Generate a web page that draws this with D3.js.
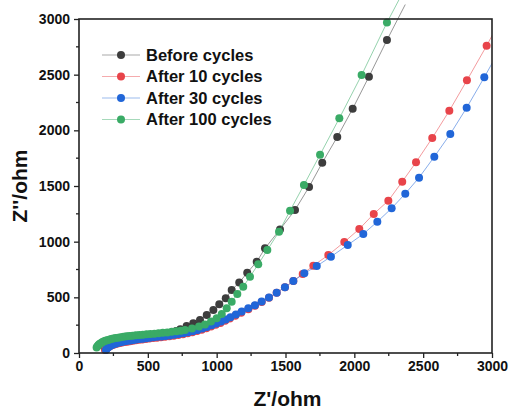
<!DOCTYPE html>
<html>
<head>
<meta charset="utf-8">
<script src="https://cdnjs.cloudflare.com/ajax/libs/d3/7.8.5/d3.min.js"></script>
<style>
body { margin: 0; background: #fff; }
text { font-family: Arial, "Liberation Sans", sans-serif; font-weight: bold; fill: #111; }
</style>
</head>
<body>
<div id="chart"></div>
<script>
// series names / colours
var seriesNames = ["Before cycles", "After 10 cycles", "After 30 cycles", "After 100 cycles"];
var seriesColors = ["#3d3d3d", "#e8444a", "#2166d8", "#3aab66"];

// [Z', Z''] in ohm
var beforeCycles = [[189,33],[194,44],[200,54],[207,63],[215,71],[224,78],[234,85],[245,91],[257,97],[270,103],[284,108],[299,113],[315,118],[332,123],[350,127],[369,131],[389,135],[410,139],[432,143],[455,147],[479,151],[504,155],[530,159],[557,163],[585,168],[614,173],[644,179],[675,187],[706,198],[736,214],[782,243],[830,267],[879,296],[928,341],[976,386],[1019,437],[1066,491],[1109,566],[1164,633],[1222,721],[1291,820],[1351,940],[1460,1110],[1569,1284],[1671,1491],[1767,1709],[1876,1940],[1988,2194],[2106,2482],[2237,2811],[2370,3130]];
var after10 = [[190,26],[197,37],[205,47],[215,55],[226,62],[238,69],[251,75],[265,80],[280,85],[296,90],[313,94],[331,98],[350,102],[370,106],[391,110],[413,114],[436,118],[460,122],[485,126],[511,130],[538,134],[566,138],[595,142],[625,146],[656,151],[688,156],[721,162],[755,169],[789,177],[823,186],[857,197],[891,209],[925,222],[959,237],[993,253],[1027,270],[1061,289],[1095,309],[1135,334],[1178,362],[1230,392],[1278,424],[1327,459],[1380,497],[1436,542],[1496,590],[1557,647],[1625,710],[1702,784],[1811,880],[1927,997],[2036,1114],[2141,1249],[2247,1368],[2348,1539],[2448,1713],[2566,1931],[2690,2176],[2818,2449],[2961,2760],[3100,3080]];
var after30 = [[196,28],[202,40],[210,50],[220,59],[231,67],[243,74],[256,80],[270,86],[285,91],[301,96],[318,101],[336,105],[355,109],[375,113],[396,117],[418,121],[441,125],[465,129],[490,133],[516,137],[543,141],[571,145],[600,149],[630,153],[661,158],[693,164],[726,170],[760,177],[794,186],[828,196],[862,207],[896,220],[930,234],[964,249],[998,265],[1032,283],[1066,302],[1100,322],[1140,346],[1182,372],[1230,401],[1278,430],[1327,462],[1380,499],[1436,542],[1496,590],[1557,647],[1637,716],[1727,781],[1830,865],[1952,970],[2065,1069],[2167,1179],[2271,1300],[2370,1431],[2470,1575],[2581,1763],[2697,1967],[2816,2203],[2944,2476],[3080,2780]];
var after100 = [[128,50],[134,61],[141,71],[149,80],[158,88],[168,96],[179,103],[191,109],[204,115],[218,120],[233,125],[249,130],[266,134],[284,138],[303,142],[323,146],[344,150],[366,153],[389,156],[413,159],[438,162],[464,165],[491,168],[519,171],[548,174],[578,177],[609,181],[641,185],[674,190],[708,195],[740,200],[770,207],[821,220],[872,238],[915,256],[959,283],[1000,312],[1037,350],[1073,402],[1109,461],[1150,530],[1193,596],[1242,685],[1302,797],[1368,925],[1453,1090],[1533,1278],[1634,1509],[1751,1781],[1891,2108],[2053,2497],[2237,2968],[2430,3420]];

var allSeries = [beforeCycles, after10, after30, after100];
var xTicks = [0, 500, 1000, 1500, 2000, 2500, 3000];
var yTicks = [0, 500, 1000, 1500, 2000, 2500, 3000];

var width = 509, height = 410;
var margin = {top: 19, right: 17, bottom: 57, left: 79};

var svg = d3.select("#chart").append("svg")
    .attr("width", width)
    .attr("height", height);

var x = d3.scaleLinear().domain([0, 3000]).range([margin.left, width - margin.right]);
var y = d3.scaleLinear().domain([0, 3000]).range([height - margin.bottom, margin.top]);

svg.append("clipPath").attr("id", "lineclip")
    .append("rect")
    .attr("x", x(0)).attr("y", 0)
    .attr("width", x(3000) - x(0)).attr("height", y(0));

var line = d3.line().x(function (d) { return x(d[0]); }).y(function (d) { return y(d[1]); });

// lines first, then dots, series in order so green ends up on top
allSeries.forEach(function (s, i) {
    svg.append("path")
        .datum(s)
        .attr("clip-path", "url(#lineclip)")
        .attr("d", line)
        .attr("fill", "none")
        .attr("stroke", seriesColors[i])
        .attr("stroke-opacity", 0.6)
        .attr("stroke-width", 0.9);
    svg.append("g").selectAll("circle")
        .data(s.filter(function (d) { return d[0] <= 3000 && d[1] <= 3000; }))
        .enter().append("circle")
        .attr("cx", function (d) { return x(d[0]); })
        .attr("cy", function (d) { return y(d[1]); })
        .attr("r", 4)
        .attr("fill", seriesColors[i]);
});

// axes
var xAxis = d3.axisBottom(x).tickValues(xTicks).tickFormat(d3.format("d")).tickSize(5).tickPadding(3);
var yAxis = d3.axisLeft(y).tickValues(yTicks).tickFormat(d3.format("d")).tickSize(5).tickPadding(4);

var gx = svg.append("g").attr("transform", "translate(0," + y(0) + ")").call(xAxis);
var gy = svg.append("g").attr("transform", "translate(" + x(0) + ",0)").call(yAxis);
[gx, gy].forEach(function (g) {
    g.select(".domain").remove();
    g.selectAll("line").attr("stroke", "#222").attr("stroke-width", 1.3);
    g.selectAll("text").style("font-size", "14px").attr("fill", "#111");
});

// minor ticks
svg.append("g").selectAll("line")
    .data(d3.range(250, 3000, 500))
    .enter().append("line")
    .attr("x1", function (d) { return x(d); }).attr("x2", function (d) { return x(d); })
    .attr("y1", y(0)).attr("y2", y(0) + 3)
    .attr("stroke", "#222").attr("stroke-width", 1.3);
svg.append("g").selectAll("line")
    .data(d3.range(250, 3000, 500))
    .enter().append("line")
    .attr("y1", function (d) { return y(d); }).attr("y2", function (d) { return y(d); })
    .attr("x1", x(0)).attr("x2", x(0) - 3)
    .attr("stroke", "#222").attr("stroke-width", 1.3);

// frame
svg.append("rect")
    .attr("x", x(0)).attr("y", y(3000))
    .attr("width", x(3000) - x(0)).attr("height", y(0) - y(3000))
    .attr("fill", "none").attr("stroke", "#222").attr("stroke-width", 1.6);

// titles
svg.append("text")
    .attr("x", (x(0) + x(3000)) / 2 + 2).attr("y", 406)
    .attr("text-anchor", "middle")
    .style("font-size", "21px")
    .text("Z'/ohm");
svg.append("text")
    .attr("transform", "translate(27," + (y(0) + y(3000)) / 2 + ") rotate(-90)")
    .attr("text-anchor", "middle")
    .style("font-size", "21px")
    .text("Z''/ohm");

// legend
var legend = svg.append("g").selectAll("g")
    .data(seriesNames)
    .enter().append("g")
    .attr("transform", function (d, i) { return "translate(102," + (55 + i * 21.5) + ")"; });
legend.append("line")
    .attr("x1", 0).attr("x2", 38)
    .attr("stroke", function (d, i) { return seriesColors[i]; })
    .attr("stroke-opacity", 0.45)
    .attr("stroke-width", 1.2);
legend.append("circle")
    .attr("cx", 19).attr("r", 4)
    .attr("fill", function (d, i) { return seriesColors[i]; });
legend.append("text")
    .attr("x", 44).attr("dy", "0.36em")
    .style("font-size", "16.5px")
    .text(function (d) { return d; });
</script>
</body>
</html>
